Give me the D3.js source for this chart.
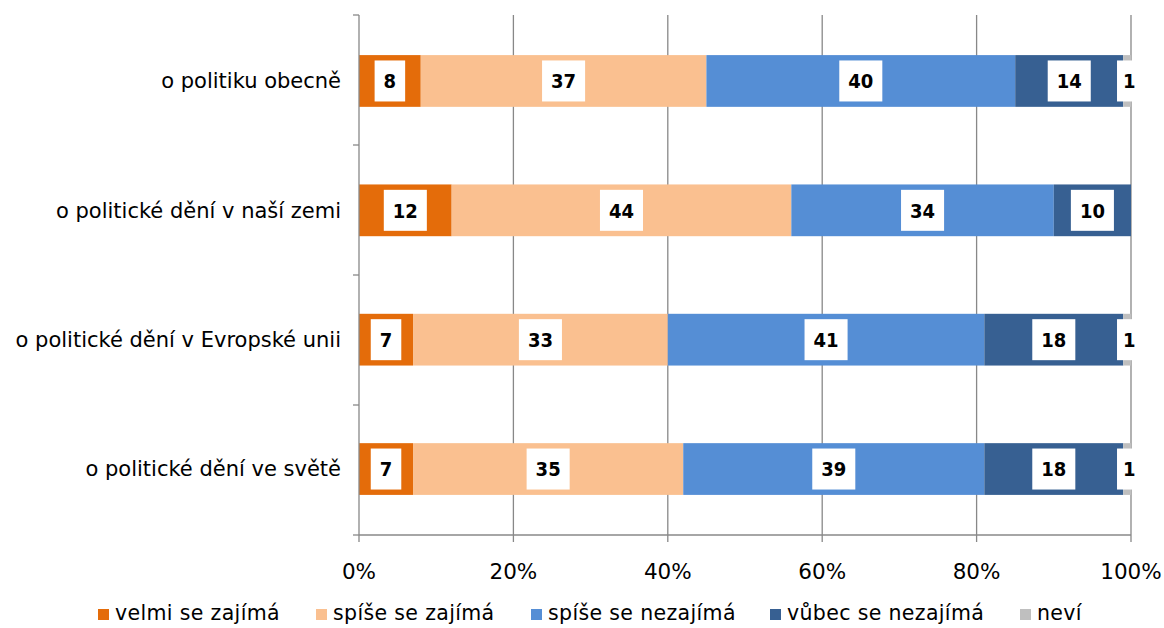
<!DOCTYPE html>
<html>
<head>
<meta charset="utf-8">
<script src="https://cdn.jsdelivr.net/npm/d3@7"></script>
<style>
  body { margin: 0; background: #fff; }
  svg { display: block; }
  .cat text, .xax text { font-family: "DejaVu Sans", Verdana, sans-serif; fill: #000; }
  .lbl text { font-family: "DejaVu Sans Condensed", "DejaVu Sans", sans-serif; font-weight: bold; }
  .legend text { font-family: "DejaVu Sans", sans-serif; }
</style>
</head>
<body>
<div id="chart"></div>
<script>
// categories and series (percent)
var categories = ["o politiku obecně", "o politické dění v naší zemi", "o politické dění v Evropské unii", "o politické dění ve světě"];
var seriesNames = ["velmi se zajímá", "spíše se zajímá", "spíše se nezajímá", "vůbec se nezajímá", "neví"];
var velmi = [8, 12, 7, 7];
var spiseZaj = [37, 44, 33, 35];
var spiseNezaj = [40, 34, 41, 39];
var vubec = [14, 10, 18, 18];
var nevi = [1, 0, 1, 1];
var colors = ["#E46C0A", "#FAC090", "#558ED5", "#376092", "#BFBFBF"];
var ticks = [0, 20, 40, 60, 80, 100];

var series = [velmi, spiseZaj, spiseNezaj, vubec, nevi];

var W = 1164, H = 628;
var margin = { top: 15, right: 33, bottom: 93, left: 359 };

var svg = d3.select("#chart").append("svg")
    .attr("width", W)
    .attr("height", H);

var x = d3.scaleLinear().domain([0, 100]).range([margin.left, W - margin.right]);
var y = d3.scaleBand().domain(categories).range([margin.top, H - margin.bottom]).paddingInner(0.6).paddingOuter(0.31);

// gridlines
svg.append("g").selectAll("line")
    .data(ticks.slice(1))
    .enter().append("line")
    .attr("x1", function(d) { return x(d); })
    .attr("x2", function(d) { return x(d); })
    .attr("y1", margin.top)
    .attr("y2", H - margin.bottom)
    .attr("stroke", "#888")
    .attr("stroke-width", 1.3);

// stacked data
var stacked = categories.map(function(c, i) {
    var acc = 0;
    return series.map(function(s, k) {
        var d = { cat: c, k: k, v: s[i], x0: acc, x1: acc + s[i] };
        acc += s[i];
        return d;
    });
});

var rows = svg.append("g").selectAll("g")
    .data(stacked)
    .enter().append("g");

rows.selectAll("rect")
    .data(function(d) { return d.filter(function(e) { return e.v > 0; }); })
    .enter().append("rect")
    .attr("x", function(d) { return x(d.x0); })
    .attr("width", function(d) { return x(d.x1) - x(d.x0); })
    .attr("y", function(d) { return y(d.cat); })
    .attr("height", y.bandwidth())
    .attr("fill", function(d) { return colors[d.k]; });

// axes
var yAxisG = svg.append("g").attr("class", "cat");
yAxisG.append("line")
    .attr("x1", x(0)).attr("x2", x(0))
    .attr("y1", margin.top).attr("y2", H - margin.bottom)
    .attr("stroke", "#888").attr("stroke-width", 1.3);

var bounds = d3.range(categories.length + 1).map(function(i) { return margin.top + i * (H - margin.top - margin.bottom) / categories.length; });
yAxisG.selectAll("line.tk")
    .data(bounds)
    .enter().append("line")
    .attr("class", "tk")
    .attr("x1", x(0) - 6).attr("x2", x(0))
    .attr("y1", function(d) { return d; }).attr("y2", function(d) { return d; })
    .attr("stroke", "#888").attr("stroke-width", 1.3);

yAxisG.selectAll("text")
    .data(categories)
    .enter().append("text")
    .attr("x", x(0) - 18)
    .attr("y", function(d) { return y(d) + y.bandwidth() / 2; })
    .attr("dy", "0.35em")
    .attr("text-anchor", "end")
    .attr("font-size", 21)
    .text(function(d) { return d; });

var xAxisG = svg.append("g").attr("class", "xax");
xAxisG.append("line")
    .attr("x1", x(0)).attr("x2", x(100))
    .attr("y1", H - margin.bottom).attr("y2", H - margin.bottom)
    .attr("stroke", "#888").attr("stroke-width", 1.3);
xAxisG.selectAll("line.tk")
    .data(ticks)
    .enter().append("line")
    .attr("class", "tk")
    .attr("x1", function(d) { return x(d); }).attr("x2", function(d) { return x(d); })
    .attr("y1", H - margin.bottom).attr("y2", H - margin.bottom + 7)
    .attr("stroke", "#888").attr("stroke-width", 1.3);
xAxisG.selectAll("text")
    .data(ticks)
    .enter().append("text")
    .attr("x", function(d) { return x(d); })
    .attr("y", H - margin.bottom + 44)
    .attr("text-anchor", "middle")
    .attr("font-size", 21.5)
    .text(function(d) { return d + "%"; });

// value labels in white boxes
var lbls = rows.selectAll("g.lbl")
    .data(function(d) { return d.filter(function(e) { return e.v > 0; }); })
    .enter().append("g")
    .attr("class", "lbl")
    .attr("transform", function(d) {
        var cx = (x(d.x0) + x(d.x1)) / 2;
        if (d.k === 4) cx = x(d.x0) + 6;
        return "translate(" + cx + "," + (y(d.cat) + y.bandwidth() / 2) + ")";
    });

lbls.each(function(d) {
    var g = d3.select(this);
    var t = g.append("text")
        .attr("text-anchor", "middle")
        .attr("dy", "0.36em")
        .attr("font-size", 20)
        .attr("fill", "#000")
        .text(d.v);
    var bw = t.node().getComputedTextLength() + (d.k === 4 ? 12 : 18);
    g.insert("rect", "text")
        .attr("x", -bw / 2)
        .attr("y", -20.5)
        .attr("width", bw)
        .attr("height", 41)
        .attr("fill", "#fff");
});

// legend
var legendX = [98, 316, 531, 770, 1020];
var legend = svg.append("g").attr("class", "legend")
    .selectAll("g")
    .data(seriesNames)
    .enter().append("g")
    .attr("transform", function(d, i) { return "translate(" + legendX[i] + "," + 609 + ")"; });
legend.append("rect")
    .attr("width", 11).attr("height", 11)
    .attr("y", 0)
    .attr("fill", function(d, i) { return colors[i]; });
legend.append("text")
    .attr("x", 17)
    .attr("y", 11)
    .attr("font-size", 20.5)
    .attr("letter-spacing", 0.35)
    .attr("fill", "#000")
    .text(function(d) { return d; });
</script>
</body>
</html>
